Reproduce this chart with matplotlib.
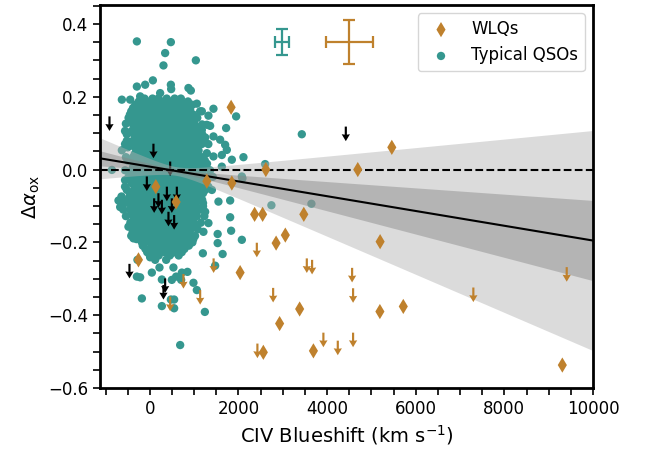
import numpy as np
import matplotlib
matplotlib.use("Agg")
import matplotlib.pyplot as plt
from matplotlib.ticker import MultipleLocator

TEAL = "#35978f"
BROWN = "#bf812d"

# ---------------- data (CIV blueshift [km/s], delta alpha_ox) ----------------
# WLQ detections
wlq_x = [5460, 4692, 2617, 1286, 1850, 2364, 2545, 3474, 3057, 2849, 5196, 2037,
         3380, 5191, 5719, 2928, 2561, 3691, 9308, 1834, 135, 593, -257]
wlq_y = [0.061, 0.000, 0.000, -0.032, -0.037, -0.123, -0.123, -0.123, -0.180, -0.202,
         -0.198, -0.283, -0.383, -0.390, -0.376, -0.423, -0.502, -0.498, -0.537, 0.171,
         -0.047, -0.089, -0.248]

# WLQ upper limits
wlq_lim_x = [9407, 7300, 4564, 4586, 4586, 4241, 3916, 3542, 3661, 2782, 2414, 1439,
             2427, 1135, 758, 458]
wlq_lim_y = [-0.268, -0.324, -0.270, -0.326, -0.448, -0.470, -0.448, -0.244, -0.248,
             -0.325, -0.201, -0.244, -0.478, -0.331, -0.287, -0.349]

# Typical QSO upper limits
qso_lim_x = [-911, 81, 458, -68, 384, 609, 194, 97, 271, 496, 420, 548, -460, 345, 307, 4422]
qso_lim_y = [0.146, 0.071, 0.022, -0.019, -0.047, -0.047, -0.065, -0.079, -0.083, -0.079,
             -0.116, -0.125, -0.259, -0.299, -0.317, 0.118]

# Typical QSO detections: outer / isolated points
qso_x = [-293, 474, 345, 307, 1038, -293, -106, 68, 474, 481, 871, 925, -632, -444, -219,
         232, -370, 1060, 909, 1135, -541, -293, 1096, 1286, -632, -857, -406, -370, -429,
         1435, 1322, 1947, 1721, 1360, 3429, 2112, 1850, 1435, 1586, 1699, 1737, 2601,
         1173, 1135, 1286, 1435, 1624, 1624, 2076, 1173, 2089, 3646, 2743, 1812, 1834,
         2076, 1530, 1530, 1642, 1196, 1241, 1322, 1248, 1209, 1812, 1548, 1473, -708,
         -670, -483, -370, -106, -280, 7, 120, -293, -219, 45, 217, 368, 532, 519, 722,
         848, 593, 271, 496, 706, 984, 1060, -180, 271, 548, 474, 548, 684, 307]
qso_y = [0.352, 0.350, 0.320, 0.286, 0.300, 0.228, 0.233, 0.245, 0.233, 0.221, 0.224,
         0.217, 0.192, 0.192, 0.201, 0.210, 0.162, 0.181, 0.164, 0.160, 0.126, 0.137,
         0.109, 0.123, 0.053, -0.001, -0.001, -0.028, -0.007, 0.167, 0.148, 0.146, 0.114,
         0.120, 0.097, 0.034, 0.027, 0.091, 0.082, 0.068, 0.054, 0.015, 0.109, 0.073,
         0.045, 0.036, 0.040, 0.008, -0.019, 0.160, -0.024, -0.094, -0.098, -0.131,
         -0.168, -0.193, -0.177, -0.202, -0.232, -0.230, -0.391, -0.147, -0.116, -0.171,
         -0.085, -0.088, -0.264, -0.085, -0.103, -0.157, -0.189, -0.198, -0.248, -0.241,
         -0.248, -0.294, -0.296, -0.283, -0.269, -0.248, -0.269, -0.228, -0.283, -0.281,
         -0.294, -0.302, -0.303, -0.303, -0.311, -0.331, -0.354, -0.375, -0.381, -0.357,
         -0.357, -0.482, -0.221]

# Typical QSO detections: dense core, listed by row (delta alpha_ox -> blueshifts)
core_rows = {
    0.195: [-120, 60, 190, 380, 560, 700],
    0.187: [-250, -60, 110, 270, 450, 620, 860],
    0.178: [-330, -170, 0, 150, 330, 480, 640, 780, 960],
    0.169: [-380, -210, -40, 110, 280, 440, 600, 750, 900],
    0.160: [-420, -260, -90, 70, 230, 400, 560, 720, 850],
    0.151: [-450, -290, -120, 40, 200, 360, 520, 680, 820, 980],
    0.142: [-480, -330, -160, 0, 150, 310, 470, 610, 760, 900, 1070],
    0.133: [-420, -260, -100, 60, 230, 390, 540, 690, 830, 960],
    0.124: [-380, -220, -60, 100, 260, 420, 580, 730, 880, 1010, 1180],
    0.115: [-330, -170, -20, 140, 290, 450, 610, 760, 920, 1090],
    0.106: [-560, -410, -260, -100, 60, 210, 370, 530, 680, 840, 980],
    0.097: [-520, -360, -210, -50, 110, 260, 420, 570, 720, 890, 1040, 1180],
    0.088: [-320, -170, -20, 140, 290, 450, 610, 760, 920, 1080, 1250],
    0.079: [-520, -380, -220, -60, 100, 250, 410, 570, 730, 880, 1040, 1200],
    0.070: [-560, -400, -250, -90, 70, 220, 380, 540, 700, 850, 1000, 1170, 1320],
    0.061: [-500, -340, -190, -30, 120, 270, 430, 590, 750, 900, 1060],
    0.052: [-300, -150, 10, 160, 320, 470, 630, 790, 940, 1100],
    0.043: [-340, -190, -40, 120, 280, 440, 600, 760, 920, 1080],
    0.034: [-540, -380, -220, -70, 90, 240, 400, 560, 720, 880, 1040, 1200],
    0.025: [-500, -350, -190, -30, 130, 280, 440, 600, 760, 920, 1080, 1240],
    0.016: [-310, -150, 0, 160, 310, 470, 640, 800, 960, 1120, 1290],
    0.007: [-380, -230, -70, 80, 240, 400, 560, 720, 880, 1040, 1210],
    -0.002: [-560, -250, -90, 70, 230, 390, 550, 710, 870, 1030, 1190, 1360],
    -0.011: [-400, -250, -90, 70, 230, 390, 550, 710, 870, 1030, 1190],
    -0.020: [-480, -330, -170, -10, 150, 310, 470, 630, 790, 950, 1110, 1270, 1420],
    -0.029: [-560, -400, -250, -90, 70, 230, 390, 550, 710, 870, 1030, 1190],
    -0.038: [-410, -250, -90, 70, 230, 390, 550, 710, 870, 1030, 1200],
    -0.047: [-560, -330, -170, -10, 150, 310, 470, 630, 790, 950, 1110, 1320],
    -0.056: [-520, -360, -200, -40, 120, 280, 440, 600, 760, 920, 1080, 1250, 1400],
    -0.065: [-420, -260, -100, 60, 220, 380, 540, 700, 860, 1020, 1200],
    -0.074: [-640, -460, -300, -140, 20, 180, 340, 500, 660, 820, 990, 1150],
    -0.083: [-600, -430, -270, -110, 50, 210, 370, 530, 690, 850, 1010, 1180],
    -0.092: [-560, -400, -240, -80, 80, 240, 400, 560, 720, 880, 1040, 1200],
    -0.101: [-420, -260, -100, 60, 220, 380, 540, 700, 860, 1020, 1200],
    -0.110: [-600, -450, -300, -150, 10, 170, 330, 490, 650, 810, 970, 1130],
    -0.119: [-400, -240, -80, 80, 240, 400, 560, 720, 880, 1040],
    -0.128: [-540, -380, -220, -60, 100, 260, 420, 580, 740, 900, 1060, 1230],
    -0.137: [-330, -170, -10, 150, 310, 470, 630, 790, 950],
    -0.146: [-440, -290, -130, 30, 190, 350, 510, 670, 830, 990, 1150],
    -0.155: [-400, -250, -90, 70, 230, 390, 550, 710, 870, 1030],
    -0.164: [-350, -200, -40, 120, 280, 440, 600, 760, 920, 1080],
    -0.173: [-390, -230, -70, 90, 250, 410, 570, 730, 890],
    -0.182: [-420, -260, -100, 60, 220, 380, 540, 700, 860, 1020],
    -0.191: [-300, -140, 20, 180, 340, 500, 660, 820, 980],
    -0.200: [-180, 0, 160, 320, 480, 640, 800, 960],
    -0.209: [-160, 40, 200, 380, 560, 720, 880],
    -0.218: [-100, 80, 240, 420, 600, 780],
    -0.227: [-60, 130, 330, 520, 720],
    -0.236: [0, 200, 450, 650],
}

# Linear fit and its confidence bands
fit_intercept = 0.008
fit_slope = -2.03e-5
fit_pivot = 590
band_inner = (0.005, 1.17e-5)
band_outer = (0.012, 3.21e-5)

# Representative uncertainties
err_qso = (2990, 0.350, 160, 0.036)
err_wlq = (4500, 0.350, 535, 0.060)

XLIM = (-1125, 10000)
YLIM = (-0.6, 0.452)
LIM_LEN = 0.04

# ---------------- plotting ----------------
plt.rcParams["font.family"] = ["DejaVu Sans"]
fig = plt.figure(figsize=(6.49, 4.5), dpi=100)
ax = fig.add_axes([100 / 649, 1 - 388 / 450, 493 / 649, 383 / 450])

core_x = [x for yv, xs in core_rows.items() for x in xs]
core_y = [yv for yv, xs in core_rows.items() for x in xs]
all_qx = list(qso_x) + core_x
all_qy = list(qso_y) + core_y

ax.scatter(all_qx, all_qy, s=36, color=TEAL, edgecolors="none", zorder=1,
           label="Typical QSOs")

arrow_kw = dict(angles="xy", scale_units="xy", scale=1, width=0.0044,
                headwidth=3.8, headlength=3.2, headaxislength=3.0)
ax.quiver(qso_lim_x, qso_lim_y, np.zeros(len(qso_lim_x)), -LIM_LEN * np.ones(len(qso_lim_x)),
          color="k", zorder=1.5, **arrow_kw)

xs = np.linspace(XLIM[0], XLIM[1], 300)
yfit = fit_intercept + fit_slope * xs
h_out = np.sqrt(band_outer[0] ** 2 + (band_outer[1] * (xs - fit_pivot)) ** 2)
h_in = np.sqrt(band_inner[0] ** 2 + (band_inner[1] * (xs - fit_pivot)) ** 2)
ax.fill_between(xs, yfit - h_out, yfit + h_out, color="#b0b0b0", alpha=0.45,
                linewidth=0, zorder=2)
ax.fill_between(xs, yfit - h_in, yfit + h_in, color="#868686", alpha=0.45,
                linewidth=0, zorder=2.1)
ax.axhline(0, color="k", ls="--", lw=1.5, zorder=3)
ax.plot(xs, yfit, color="k", lw=1.5, zorder=3)

ax.scatter(wlq_x, wlq_y, s=60, marker="d", color=BROWN, edgecolors="none", zorder=4,
           label="WLQs")
ax.quiver(wlq_lim_x, wlq_lim_y, np.zeros(len(wlq_lim_x)), -LIM_LEN * np.ones(len(wlq_lim_x)),
          color=BROWN, zorder=4, **arrow_kw)

for (ex, ey, exe, eye), c in [(err_qso, TEAL), (err_wlq, BROWN)]:
    ax.errorbar(ex, ey, xerr=exe, yerr=eye, fmt="none", ecolor=c, elinewidth=1.6,
                capsize=4.5, capthick=1.6, zorder=4)

ax.set_xlim(*XLIM)
ax.set_ylim(*YLIM)
ax.xaxis.set_major_locator(MultipleLocator(2000))
ax.xaxis.set_minor_locator(MultipleLocator(500))
ax.yaxis.set_major_locator(MultipleLocator(0.2))
ax.yaxis.set_minor_locator(MultipleLocator(0.05))
ax.tick_params(which="both", direction="out", length=5, width=1.2, labelsize=12)
for sp in ax.spines.values():
    sp.set_linewidth(2.0)
ax.set_yticks([0.4, 0.2, 0.0, -0.2, -0.4, -0.6])
ax.set_yticklabels(["0.4", "0.2", "0.0", "\u22120.2", "\u22120.4", "\u22120.6"])

ax.set_xlabel(r"CIV Blueshift (km s$^{-1}$)", fontsize=14)
ax.set_ylabel(r"$\Delta\alpha_{\rm ox}$", fontsize=14)

handles, labels = ax.get_legend_handles_labels()
order = [labels.index("WLQs"), labels.index("Typical QSOs")]
ax.legend([handles[i] for i in order], [labels[i] for i in order], loc="upper right",
          fontsize=12, scatterpoints=1)

fig.savefig("out.png", dpi=100)
